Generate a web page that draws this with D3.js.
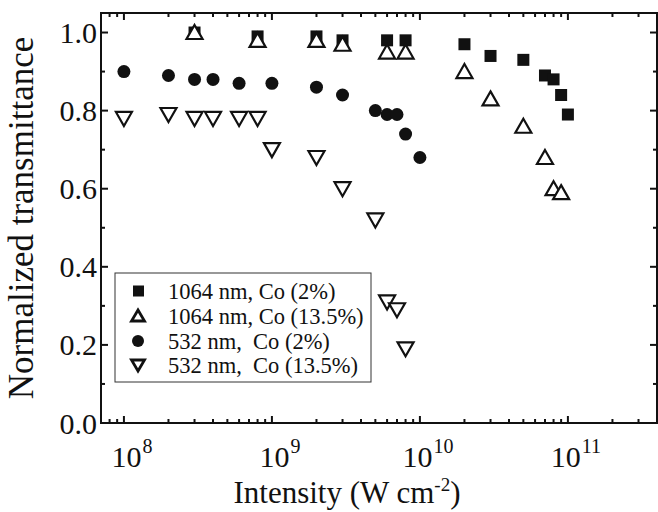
<!DOCTYPE html>
<html>
<head>
<meta charset="utf-8">
<script src="https://cdn.jsdelivr.net/npm/d3@7"></script>
<style>
  body { margin: 0; background: #fff; }
</style>
</head>
<body>
<div id="chart"></div>
<script>
// data
const sqX = [3e8, 8e8, 2e9, 3e9, 6e9, 8e9, 2e10, 3e10, 5e10, 7e10, 8e10, 9e10, 1e11];
const sqY = [1.0, 0.99, 0.99, 0.98, 0.98, 0.98, 0.97, 0.94, 0.93, 0.89, 0.88, 0.84, 0.79];

const upX = [3e8, 8e8, 2e9, 3e9, 6e9, 8e9, 2e10, 3e10, 5e10, 7e10, 8e10, 9e10];
const upY = [1.0, 0.98, 0.98, 0.97, 0.95, 0.95, 0.90, 0.83, 0.76, 0.68, 0.60, 0.59];

const dotX = [1e8, 2e8, 3e8, 4e8, 6e8, 1e9, 2e9, 3e9, 5e9, 6e9, 7e9, 8e9, 1e10];
const dotY = [0.90, 0.89, 0.88, 0.88, 0.87, 0.87, 0.86, 0.84, 0.80, 0.79, 0.79, 0.74, 0.68];

const dnX = [1e8, 2e8, 3e8, 4e8, 6e8, 8e8, 1e9, 2e9, 3e9, 5e9, 6e9, 7e9, 8e9];
const dnY = [0.78, 0.79, 0.78, 0.78, 0.78, 0.78, 0.70, 0.68, 0.60, 0.52, 0.31, 0.29, 0.19];

const legendLabels = ["1064 nm, Co (2%)", "1064 nm, Co (13.5%)", "532 nm,  Co (2%)", "532 nm,  Co (13.5%)"];
const yTicks = [0, 0.2, 0.4, 0.6, 0.8, 1.0];
const xTicks = [1e8, 1e9, 1e10, 1e11];

const width = 658;
const height = 512;
const pLeft = 101, pRight = 657, pTop = 13, pBottom = 423;
const serif = "'Liberation Serif', 'Times New Roman', 'DejaVu Serif', serif";

const svg = d3.select("#chart")
    .append("svg")
    .attr("width", width)
    .attr("height", height)
    .attr("font-family", serif)
    .style("font-family", serif);

const x = d3.scaleLog()
    .domain([7e7, 4e11])
    .range([pLeft, pRight]);

const y = d3.scaleLinear()
    .domain([0, 1.05])
    .range([pBottom, pTop]);

// minor ticks
const xMinor = [];
[7, 8, 9].forEach(k => xMinor.push(k * 1e7));
[1e8, 1e9, 1e10, 1e11].forEach(dec => {
    for (let k = 2; k <= 9; k++) if (k * dec <= 4e11) xMinor.push(k * dec);
});
const yMinor = [0.1, 0.3, 0.5, 0.7, 0.9];

const tickG = svg.append("g").attr("stroke", "#111").attr("stroke-width", 2);

function hTicks(vals, len) {
    vals.forEach(v => {
        tickG.append("line").attr("x1", x(v)).attr("x2", x(v)).attr("y1", pBottom).attr("y2", pBottom - len);
        tickG.append("line").attr("x1", x(v)).attr("x2", x(v)).attr("y1", pTop).attr("y2", pTop + len);
    });
}
function vTicks(vals, len) {
    vals.forEach(v => {
        tickG.append("line").attr("y1", y(v)).attr("y2", y(v)).attr("x1", pLeft).attr("x2", pLeft + len);
        tickG.append("line").attr("y1", y(v)).attr("y2", y(v)).attr("x1", pRight).attr("x2", pRight - len);
    });
}
hTicks(xTicks, 7);
hTicks(xMinor, 4);
vTicks(yTicks, 7);
vTicks(yMinor, 4);

svg.append("rect")
    .attr("x", pLeft).attr("y", pTop)
    .attr("width", pRight - pLeft).attr("height", pBottom - pTop)
    .attr("fill", "none").attr("stroke", "#111").attr("stroke-width", 2);

// tick labels
svg.append("g").selectAll("text")
    .data(yTicks)
    .enter()
    .append("text")
    .attr("x", 97)
    .attr("y", d => y(d))
    .attr("dy", "0.35em")
    .attr("text-anchor", "end")
    .attr("fill", "#111")
    .style("font-size", "30px")
    .text(d => d.toFixed(1));

const xl = svg.append("g").selectAll("text")
    .data(xTicks)
    .enter()
    .append("text")
    .attr("x", d => x(d) + 8)
    .attr("y", 467)
    .attr("text-anchor", "middle")
    .attr("fill", "#111")
    .style("font-size", "30px");
xl.append("tspan").text("10");
xl.append("tspan")
    .attr("dx", 1)
    .attr("dy", -14)
    .style("font-size", "20px")
    .text(d => Math.round(Math.log10(d)));

// axis titles
const xt = svg.append("text")
    .attr("x", (pLeft + pRight) / 2 - 32)
    .attr("y", 503)
    .attr("text-anchor", "middle")
    .attr("fill", "#111")
    .style("font-size", "31px");
xt.append("tspan").text("Intensity (W cm");
xt.append("tspan").attr("dy", -12).style("font-size", "19px").text("-2");
xt.append("tspan").attr("dy", 12).text(")");

svg.append("text")
    .attr("transform", "translate(33," + ((pTop + pBottom) / 2) + ") rotate(-90)")
    .attr("text-anchor", "middle")
    .attr("fill", "#111")
    .style("font-size", "35px")
    .text("Normalized transmittance");

// markers
const triUp = "M0,-7.5L8,6.5L-8,6.5Z";
const triDn = "M0,7.5L8,-6.5L-8,-6.5Z";

function drawSquares(xs, ys, g, s) {
    g.selectAll(null).data(xs).enter().append("rect")
        .attr("x", (d, i) => x(d) - s / 2)
        .attr("y", (d, i) => y(ys[i]) - s / 2)
        .attr("width", s).attr("height", s)
        .attr("fill", "#111");
}
function drawDots(xs, ys, g, r) {
    g.selectAll(null).data(xs).enter().append("circle")
        .attr("cx", d => x(d))
        .attr("cy", (d, i) => y(ys[i]))
        .attr("r", r)
        .attr("fill", "#111");
}
function drawTris(xs, ys, g, shape) {
    g.selectAll(null).data(xs).enter().append("path")
        .attr("d", shape)
        .attr("transform", (d, i) => "translate(" + x(d) + "," + y(ys[i]) + ")")
        .attr("fill", "#fff")
        .attr("stroke", "#111")
        .attr("stroke-width", 2.2);
}

const pts = svg.append("g");
drawSquares(sqX, sqY, pts, 12);
drawTris(upX, upY, pts, triUp);
drawDots(dotX, dotY, pts, 6.5);
drawTris(dnX, dnY, pts, triDn);

// legend
const lg = svg.append("g");
lg.append("rect")
    .attr("x", 115).attr("y", 273)
    .attr("width", 256).attr("height", 109)
    .attr("fill", "#fff").attr("stroke", "#333").attr("stroke-width", 1);

const rowY = [291, 316, 341, 365];
lg.append("rect").attr("x", 133).attr("y", rowY[0] - 5.5).attr("width", 11).attr("height", 11).attr("fill", "#111");
lg.append("path").attr("d", "M0,-6L6.5,5L-6.5,5Z").attr("transform", "translate(138," + rowY[1] + ")")
    .attr("fill", "#fff").attr("stroke", "#111").attr("stroke-width", 2.8);
lg.append("circle").attr("cx", 138).attr("cy", rowY[2]).attr("r", 6).attr("fill", "#111");
lg.append("path").attr("d", "M0,6L6.5,-5L-6.5,-5Z").attr("transform", "translate(138," + rowY[3] + ")")
    .attr("fill", "#fff").attr("stroke", "#111").attr("stroke-width", 2.8);

lg.selectAll("text.leg")
    .data(legendLabels)
    .enter()
    .append("text")
    .attr("class", "leg")
    .attr("x", 168)
    .attr("y", (d, i) => rowY[i])
    .attr("dy", "0.35em")
    .attr("fill", "#111")
    .style("font-size", "22.5px")
    .style("white-space", "pre")
    .text(d => d);
</script>
</body>
</html>
